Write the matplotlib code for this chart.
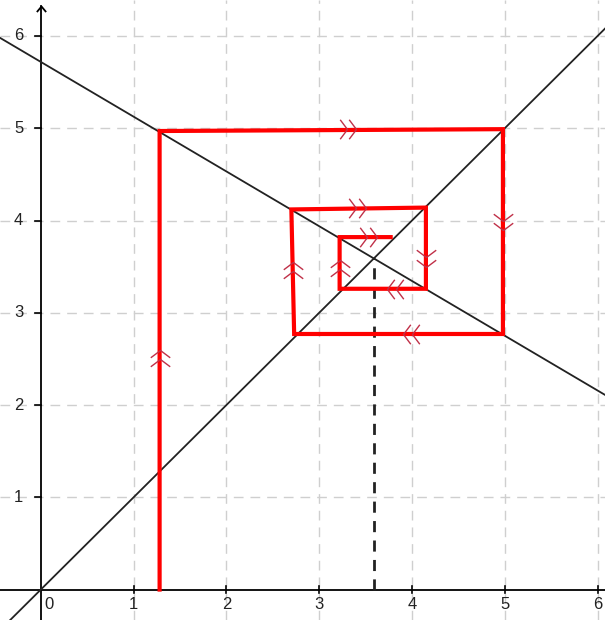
import matplotlib
matplotlib.use("Agg")
import matplotlib.pyplot as plt
import numpy as np

plt.rcParams['font.family'] = ['Liberation Sans', 'DejaVu Sans']

# view limits
xlim = (-0.44, 6.08)
ylim = (-0.33, 6.39)

# reference lines (endpoints)
diag_x = [-0.44, 6.08]
diag_y = [-0.44, 6.08]
dec_x = [-0.44, 6.08]
dec_y = [5.98, 2.11]

# cobweb path
cob_x = [1.28, 1.28, 4.98, 4.98, 2.73, 2.70, 4.15, 4.15, 3.22, 3.22, 3.77]
cob_y = [0.00, 4.97, 4.99, 2.77, 2.77, 4.12, 4.14, 3.26, 3.26, 3.82, 3.82]

# fixed point guide
fix_x = 3.59
fix_y = 3.59

# double-chevron arrows: x, y, direction (deg)
arr_x = [1.28, 3.35, 4.98, 3.95, 2.72, 3.45, 4.15, 3.78, 3.22, 3.57]
arr_y = [2.55, 4.99, 3.95, 2.77, 3.50, 4.14, 3.55, 3.26, 3.52, 3.82]
arr_d = [90, 0, -90, 180, 90, 0, -90, 180, 90, 0]

ticks = [1, 2, 3, 4, 5, 6]
tick_labels = ['1', '2', '3', '4', '5', '6']

fig = plt.figure(figsize=(6.05, 6.2), dpi=100)
ax = fig.add_axes([0, 0, 1, 1])
ax.set_xlim(*xlim)
ax.set_ylim(*ylim)
ax.axis('off')

# grid
for t in ticks:
    ax.axvline(t, color='#cfcfcf', lw=1.0, ls=(0, (7, 5)), zorder=0)
    ax.axhline(t, color='#cfcfcf', lw=1.0, ls=(0, (7, 5)), zorder=0)

# axes
ax.plot([0, 0], [ylim[0], 6.33], color='black', lw=1.3, zorder=2)
ax.plot([xlim[0], xlim[1]], [0, 0], color='black', lw=1.3, zorder=2)
ax.plot([0], [6.33], marker=[(-1, -1.2), (0, 0), (1, -1.2)], ms=8,
        mfc='none', mec='black', mew=1.3, zorder=2)

# ticks
for t, lab in zip(ticks, tick_labels):
    ax.plot([t, t], [-0.04, 0.04], color='black', lw=1.2)
    ax.plot([-0.06, 0], [t, t], color='black', lw=1.2)
    ax.text(t, -0.08, lab, ha='center', va='top', fontsize=12, color='#222222')
    ax.text(-0.24, t, lab, ha='center', va='center', fontsize=12, color='#222222')
ax.text(0.04, -0.08, '0', ha='left', va='top', fontsize=12, color='#222222')

# lines
ax.plot(diag_x, diag_y, color='#222222', lw=1.3, zorder=3)
ax.plot(dec_x, dec_y, color='#222222', lw=1.3, zorder=3)

# fixed point dashed
ax.plot([fix_x, fix_x], [0, fix_y], color='#222222', lw=2.0,
        ls=(0, (4, 3)), zorder=3)

# cobweb
ax.plot(cob_x, cob_y, color='#ff0000', lw=3.0, zorder=4,
        solid_joinstyle='miter')

# chevrons
chev = [(-0.75, 1), (0, 0), (-0.75, -1)]
for x, y, d in zip(arr_x, arr_y, arr_d):
    th = np.deg2rad(d)
    c, s = np.cos(th), np.sin(th)
    verts = [(vx * c - vy * s, vx * s + vy * c) for vx, vy in chev]
    for off in (-0.05, 0.05):
        ax.plot([x + off * c], [y + off * s], marker=verts, ms=14,
                mfc='none', mec='#c03048', mew=1.0, ls='none', zorder=5)

fig.savefig('out.png', dpi=100)
